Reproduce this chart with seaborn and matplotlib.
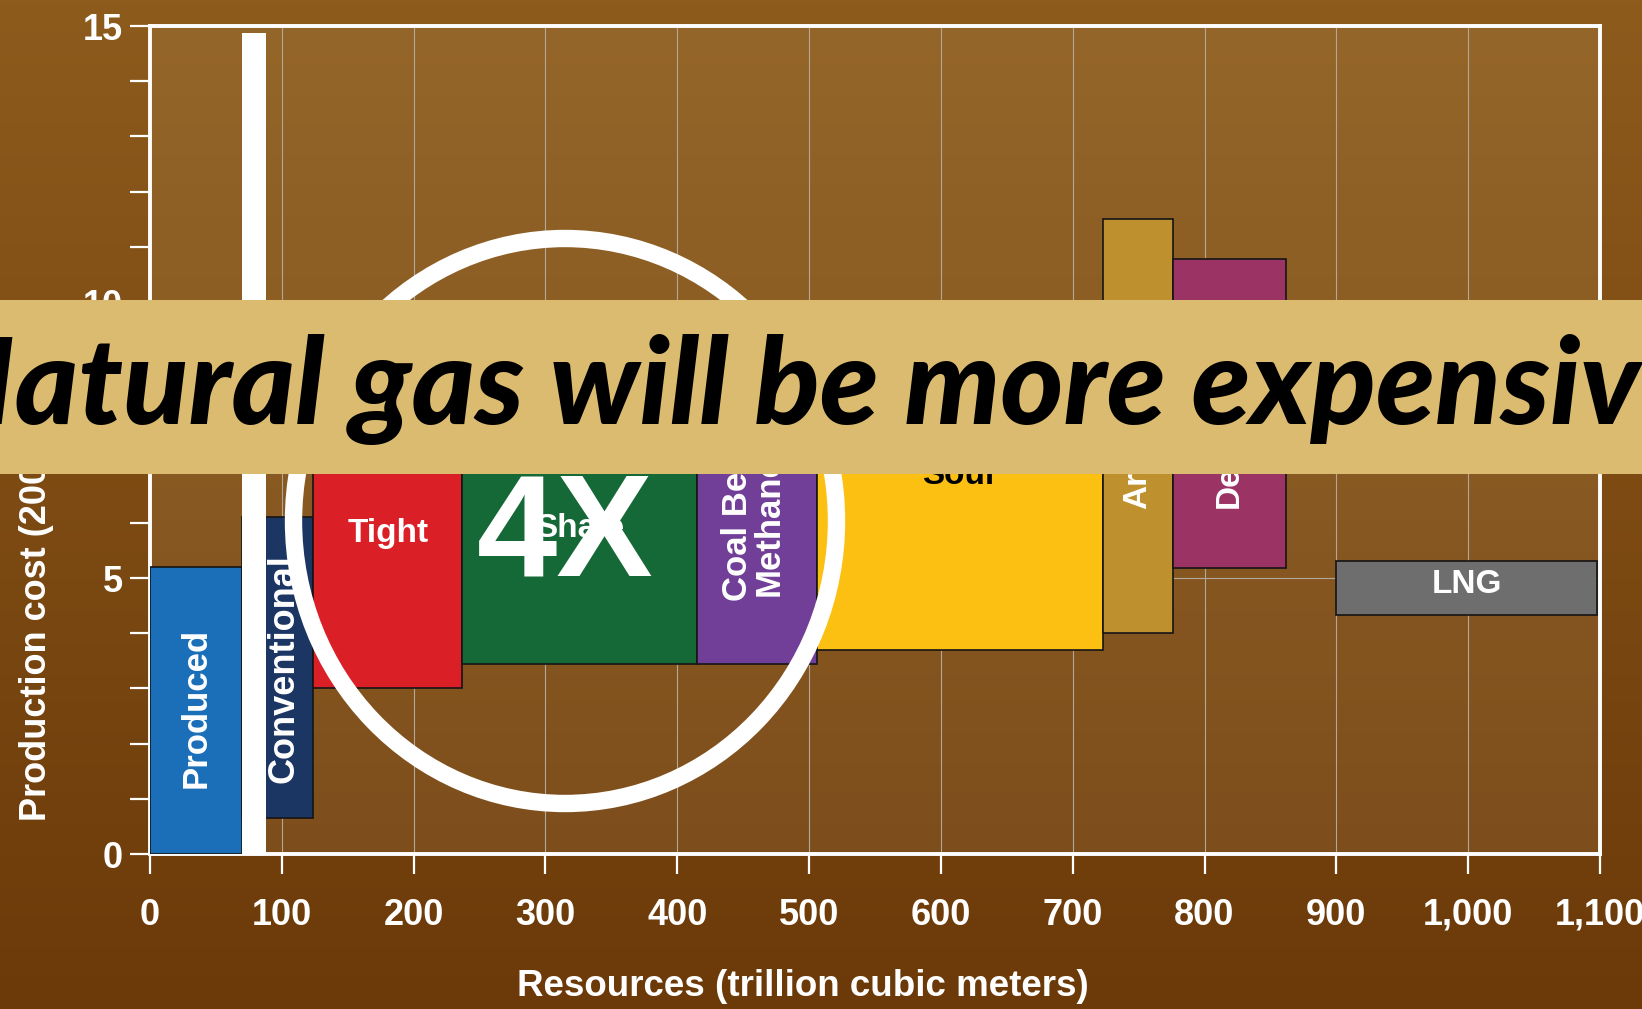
import numpy as np
import matplotlib
matplotlib.use("Agg")
import matplotlib.pyplot as plt
import matplotlib.patches as mpatches
from matplotlib.ticker import MultipleLocator
import seaborn as sns

# ---------------- data ----------------
categories = ["Produced", "Conventional", "Tight", "Shale", "Coal Bed\nMethane",
              "Sour", "Arctic", "Deepwater", "LNG"]
resource_start = [0, 70, 124, 237, 415, 506, 723, 776, 900]
resource_end = [70, 124, 237, 415, 506, 723, 776, 862, 1098]
cost_low = [0.0, 0.65, 3.0, 3.45, 3.45, 3.7, 4.0, 5.18, 4.33]
cost_high = [5.2, 6.1, 8.6, 8.5, 9.3, 9.0, 11.5, 10.78, 5.31]
colors = ["#1B6FB8", "#1C3664", "#DA1F27", "#156937", "#713F98",
          "#FCC012", "#BE902E", "#9B3465", "#6E6E6E"]

separator_x = [70, 88]          # white divider between produced and remaining
separator_top = 14.87

x_ticks = [0, 100, 200, 300, 400, 500, 600, 700, 800, 900, 1000, 1100]
x_tick_labels = ["0", "100", "200", "300", "400", "500", "600", "700", "800",
                 "900", "1,000", "1,100"]
y_ticks = [0, 5, 10, 15]

title_text = "Natural gas will be more expensive"
x_label = "Resources (trillion cubic meters)"
y_label = "Production cost (2008 $/MBtu)"
multiplier_text = "4X"

# label layout (not data)
label_x_shift = [0, 5, 0, 0, -3, 0, 0, 0, 0]
label_y = [2.65, 3.35, 5.8, 5.9, 5.95, 6.85, 7.1, 7.8, 4.88]
label_rot = [90, 90, 0, 0, 90, 0, 90, 90, 0]
label_color = ["white"] * 5 + ["black"] + ["white"] * 3
label_size = [25, 26, 24, 24, 25, 24, 24, 24, 24]

# ---------------- style ----------------
sns.set_theme(style="ticks")
plt.rcParams["font.family"] = ["Liberation Sans", "DejaVu Sans"]
plt.rcParams["font.weight"] = "bold"

W, H = 1642, 1009
fig = plt.figure(figsize=(W / 100, H / 100), dpi=100)

# background gradient
bg = fig.add_axes([0, 0, 1, 1], zorder=-5)
top_c = np.array([141, 91, 28]) / 255
bot_c = np.array([108, 58, 9]) / 255
t = np.linspace(0, 1, 256)[:, None]
grad = (top_c[None, :] * (1 - t) + bot_c[None, :] * t)[:, None, :]
bg.imshow(grad, aspect="auto", extent=[0, 1, 0, 1])
bg.axis("off")

ax = fig.add_axes([150 / W, 1 - 854 / H, 1450 / W, 828 / H], zorder=0)
ax.set_facecolor((200 / 255, 170 / 255, 120 / 255, 0.15))

# bars
for i, cat in enumerate(categories):
    x0, x1 = resource_start[i], resource_end[i]
    ax.bar(x0, cost_high[i] - cost_low[i], width=x1 - x0, bottom=cost_low[i],
           align="edge", color=colors[i], edgecolor="#151515", linewidth=1.2,
           zorder=3)
# white divider
ax.bar(separator_x[0], separator_top, width=separator_x[1] - separator_x[0],
       bottom=0, align="edge", color="white", edgecolor="none", zorder=3.5)

# bar labels
for i, cat in enumerate(categories):
    xc = (resource_start[i] + resource_end[i]) / 2 + label_x_shift[i]
    ax.text(xc, label_y[i], cat, rotation=label_rot[i], ha="center",
            va="center", color=label_color[i], fontsize=label_size[i],
            fontweight="bold", zorder=4, linespacing=0.95,
            multialignment="center")

ax.set_xlim(0, 1100)
ax.set_ylim(0, 15)
ax.set_xticks(x_ticks)
ax.set_xticklabels(x_tick_labels)
ax.set_yticks(y_ticks)
ax.yaxis.set_minor_locator(MultipleLocator(1))
ax.tick_params(axis="x", which="major", direction="out", length=14.5, width=1.6,
               color="white", labelcolor="white", labelsize=26, pad=17)
ax.tick_params(axis="y", which="both", direction="out", length=14.5, width=1.6,
               color="white", labelcolor="white", labelsize=26, pad=5)
for lab in ax.get_xticklabels() + ax.get_yticklabels():
    lab.set_fontweight("bold")

ax.grid(True, which="major", color="#B3A898", linewidth=0.8, zorder=1)
ax.set_axisbelow(True)
for s in ax.spines.values():
    s.set_color("white")
    s.set_linewidth(2.8)
    s.set_visible(True)

# axis titles
fig.text(803 / W, 1 - 986 / H, x_label, ha="center", va="center",
         color="white", fontsize=26.5, fontweight="bold")
fig.text(37 / W, 1 - 821 / H, y_label, ha="center", va="bottom", rotation=90,
         color="white", fontsize=26, fontweight="bold", zorder=3)

# white ring
ring = mpatches.Ellipse((565 / W, 1 - 521 / H), (560 - 17) / W, (582 - 17) / H,
                        transform=fig.transFigure, fill=False,
                        edgecolor="white", linewidth=12.5, zorder=4)
fig.patches.append(ring)
fig.text(565 / W, 1 - 576 / H, multiplier_text, ha="center", va="baseline",
         color="white", fontsize=104, fontweight="bold", zorder=4.5)

# banner
ban = fig.add_axes([0, 1 - 474 / H, 1, 174 / H], zorder=6)
ban.set_facecolor("#DABB6F")
ban.set_xlim(0, 1)
ban.set_ylim(0, 1)
for s in ban.spines.values():
    s.set_visible(False)
ban.set_xticks([])
ban.set_yticks([])
fs = 85
bt = ban.text(814 / W, 1 - (424 - 300) / 174, title_text, ha="center",
              va="baseline", color="black", fontsize=fs,
              family=["Lato", "DejaVu Sans"], fontweight="black",
              fontstyle="italic", clip_on=True)
fig.canvas.draw()
w = bt.get_window_extent(renderer=fig.canvas.get_renderer()).width
fs_new = float(np.clip(fs * 1770 / w, 70, 100))
bt.set_fontsize(fs_new)

fig.savefig("out.png", dpi=100)
